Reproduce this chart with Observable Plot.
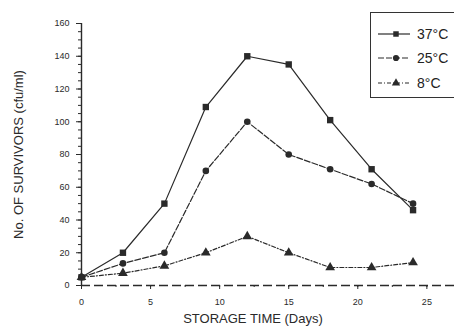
<!DOCTYPE html>
<html>
<head>
<meta charset="utf-8">
<script src="https://cdn.jsdelivr.net/npm/d3@7"></script>
<script src="https://cdn.jsdelivr.net/npm/@observablehq/plot@0.6"></script>
<style>
  html, body { margin: 0; padding: 0; background: #fff; }
  #wrap { position: relative; width: 454px; height: 331px; font-family: "Liberation Sans", Arial, sans-serif; }
  #legend { position: absolute; left: 370px; top: 12px; width: 84px; height: 84px; border: 1.3px solid #333; border-right: none; background: #fff; }
  .row { position: absolute; left: 6px; height: 16px; display: flex; align-items: center; font-size: 14px; color: #222; }
  .row svg { margin-right: 6px; }
</style>
</head>
<body>
<div id="wrap"></div>
<script>
const days = [0, 3, 6, 9, 12, 15, 18, 21, 24];
const seriesNames = ["37°C", "25°C", "8°C"];
const s37 = [5, 20, 50, 109, 140, 135, 101, 71, 46];
const s25 = [5, 13.5, 20, 70, 100, 80, 71, 62, 50];
const s8  = [5, 7.5, 12, 20, 30, 20, 11, 11, 14];
const yTicks = [0, 20, 40, 60, 80, 100, 120, 140, 160];
const xTicks = [0, 5, 10, 15, 20, 25];
const yMinor = d3.range(0, 161, 5);
const xMinor = d3.range(0, 27, 2.5);
const symbols = ["square", "circle", "triangle"];
const dashes = [null, "6,2", "4,2,1,2"];

const values = [s37, s25, s8];
const data = seriesNames.flatMap((name, i) => days.map((d, j) => ({series: name, day: d, value: values[i][j], idx: i})));

const ink = "#2a2a2a";
const marks = [
  Plot.ruleY([0], {stroke: ink, strokeWidth: 1.4, strokeDasharray: "9,4"}),
  Plot.ruleX([0], {y1: 0, y2: 160, stroke: ink, strokeWidth: 1.4}),
  Plot.axisY({ticks: yMinor, tickSize: 3, tickFormat: () => "", label: null, stroke: ink}),
  Plot.axisY({ticks: yTicks, tickSize: 5, tickPadding: 7, fontSize: 9, label: null, stroke: ink, fill: ink}),
  Plot.axisY({ticks: [], tickSize: 0, fontSize: 13, label: "No. OF SURVIVORS (cfu/ml)", labelAnchor: "center", labelOffset: 68, labelArrow: "none", fill: ink}),
  Plot.axisX({ticks: xMinor, tickSize: 2, tickFormat: () => "", label: null, stroke: ink}),
  Plot.axisX({ticks: xTicks, tickSize: 4, tickPadding: 9, fontSize: 9, label: null, stroke: ink, fill: ink}),
  Plot.text(["STORAGE TIME (Days)"], {frameAnchor: "bottom", dy: 37, dx: -15, fontSize: 13, fill: ink})
];
seriesNames.forEach((name, i) => {
  const sub = data.filter(d => d.series === name);
  marks.push(Plot.line(sub, {x: "day", y: "value", stroke: ink, strokeWidth: 1.2, strokeDasharray: dashes[i]}));
  marks.push(Plot.dot(sub, {x: "day", y: "value", symbol: () => symbols[i], fill: ink, stroke: "none", r: i === 1 ? 3.3 : 3.6}));
});

const chart = Plot.plot({
  width: 454,
  height: 331,
  marginLeft: 81,
  marginRight: 0,
  marginTop: 23,
  marginBottom: 46,
  style: {fontFamily: "Liberation Sans, Arial, sans-serif", fontSize: "13px", color: ink, background: "#fff"},
  x: {domain: [0, 27]},
  y: {domain: [0, 160]},
  symbol: {type: "identity"},
  marks
});
const wrap = document.getElementById("wrap");
wrap.appendChild(chart);

// legend
const legend = document.createElement("div");
legend.id = "legend";
const rowTops = [13, 37, 62];
seriesNames.forEach((name, i) => {
  const row = document.createElement("div");
  row.className = "row";
  row.style.top = rowTops[i] + "px";
  const svg = d3.create("svg").attr("width", 34).attr("height", 16);
  svg.append("line").attr("x1", 1).attr("x2", 33).attr("y1", 8).attr("y2", 8)
    .attr("stroke", ink).attr("stroke-width", 1.2).attr("stroke-dasharray", dashes[i]);
  svg.append("path").attr("transform", "translate(19,8)")
    .attr("d", d3.symbol(i === 0 ? d3.symbolSquare : i === 1 ? d3.symbolCircle : d3.symbolTriangle, 30)())
    .attr("fill", ink);
  row.appendChild(svg.node());
  const span = document.createElement("span");
  span.textContent = name;
  row.appendChild(span);
  legend.appendChild(row);
});
wrap.appendChild(legend);
</script>
</body>
</html>
